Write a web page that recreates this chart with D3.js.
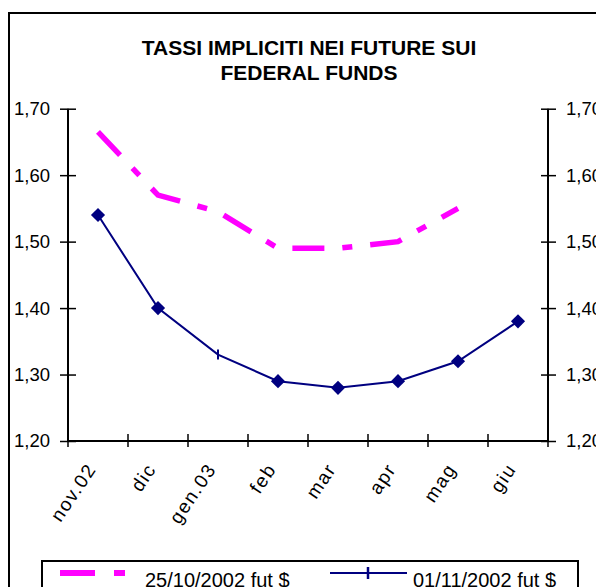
<!DOCTYPE html>
<html>
<head>
<meta charset="utf-8">
<script src="https://cdn.jsdelivr.net/npm/d3@7"></script>
<style>
  body { margin: 0; background: #fff; }
  svg { display: block; font-family: "Liberation Sans", Arial, sans-serif; }
</style>
</head>
<body>
<svg width="596" height="587"></svg>
<script>
// chart values
const months = ["nov.02", "dic", "gen.03", "feb", "mar", "apr", "mag", "giu"];
const fut2510 = [1.665, 1.57, 1.545, 1.49, 1.49, 1.50, 1.55, null];
const fut0111 = [1.54, 1.40, 1.33, 1.29, 1.28, 1.29, 1.32, 1.38];
const markers0111 = ["diamond", "diamond", "tick", "diamond", "diamond", "diamond", "diamond", "diamond"];
const yTicks = [1.20, 1.30, 1.40, 1.50, 1.60, 1.70];
const titleLines = ["TASSI IMPLICITI NEI FUTURE SUI", "FEDERAL FUNDS"];
const legendNames = ["25/10/2002 fut $", "01/11/2002 fut $"];

const svg = d3.select("svg");
const magenta = "#ff00ff", navy = "#000080";

// outer chart frame (runs off the picture on right and bottom)
svg.append("rect")
    .attr("x", 9).attr("y", 13)
    .attr("width", 620).attr("height", 620)
    .attr("fill", "none").attr("stroke", "#000").attr("stroke-width", 2);

// title
svg.append("g").selectAll("text")
    .data(titleLines)
    .join("text")
    .attr("x", 309)
    .attr("y", (d, i) => 55 + i * 25)
    .attr("text-anchor", "middle")
    .attr("font-size", 21)
    .attr("font-weight", "bold")
    .text(d => d);

let x = d3.scaleBand().domain(months).range([68, 548]).padding(0);
let y = d3.scaleLinear().domain([1.2, 1.7]).range([441, 108.7]);
const fmt = d => d.toFixed(2).replace(".", ",");

// left axis
let leftAxis = svg.append("g")
    .attr("transform", "translate(68,0)")
    .call(d3.axisLeft(y).tickValues(yTicks).tickFormat(fmt).tickSize(8).tickPadding(10));
leftAxis.selectAll(".tick line").attr("x2", 8).attr("x1", -8);

// right axis
let rightAxis = svg.append("g")
    .attr("transform", "translate(548,0)")
    .call(d3.axisRight(y).tickValues(yTicks).tickFormat(fmt).tickSize(8).tickPadding(10));
rightAxis.selectAll(".tick line").attr("x1", -7).attr("x2", 8);

// bottom axis with ticks between categories
let bottom = svg.append("g").attr("transform", "translate(0,441)");
bottom.append("line")
    .attr("x1", 68).attr("x2", 548)
    .attr("stroke", "#000").attr("stroke-width", 2);
bottom.selectAll("line.tk")
    .data(months.concat(["_end"]))
    .join("line")
    .attr("class", "tk")
    .attr("x1", (d, i) => 68 + i * x.bandwidth())
    .attr("x2", (d, i) => 68 + i * x.bandwidth())
    .attr("y1", -7).attr("y2", 6)
    .attr("stroke", "#000").attr("stroke-width", 1.5);
bottom.selectAll("text")
    .data(months)
    .join("text")
    .attr("transform", d => "translate(" + (x(d) + x.bandwidth() / 2 - 1) + ",28) rotate(-56)")
    .attr("text-anchor", "end")
    .attr("font-size", 19)
    .attr("letter-spacing", 1.6)
    .text(d => d);

[leftAxis, rightAxis].forEach(a => {
    a.select(".domain").attr("stroke-width", 2);
    a.selectAll(".tick line").attr("stroke-width", 1.5);
    a.selectAll("text").attr("font-size", 18.5).attr("fill", "#000");
    a.attr("font-family", null);
});
leftAxis.select(".domain").attr("d", "M0,441V108.7");
rightAxis.select(".domain").attr("d", "M0,441V108.7");

const cx = d => x(d) + x.bandwidth() / 2;

// 25/10 series: magenta long-dash / short-dash
const line = d3.line()
    .defined(d => d.v != null)
    .x(d => cx(d.m))
    .y(d => y(d.v));

svg.append("path")
    .datum(months.map((m, i) => ({ m: m, v: fut2510[i] })))
    .attr("d", line)
    .attr("fill", "none")
    .attr("stroke", magenta)
    .attr("stroke-width", 5.5)
    .attr("stroke-dasharray", "32,18,10,18");

// 01/11 series: navy line with diamonds
let blue = months.map((m, i) => ({ m: m, v: fut0111[i], mk: markers0111[i] }));
svg.append("path")
    .datum(blue)
    .attr("d", line)
    .attr("fill", "none")
    .attr("stroke", navy)
    .attr("stroke-width", 2);

svg.append("g").selectAll("path")
    .data(blue.filter(d => d.mk === "diamond"))
    .join("path")
    .attr("d", d3.symbol(d3.symbolSquare, 100))
    .attr("transform", d => "translate(" + cx(d.m) + "," + y(d.v) + ") rotate(45)")
    .attr("fill", navy);

svg.append("g").selectAll("line")
    .data(blue.filter(d => d.mk === "tick"))
    .join("line")
    .attr("x1", d => cx(d.m)).attr("x2", d => cx(d.m))
    .attr("y1", d => y(d.v) - 5).attr("y2", d => y(d.v) + 5)
    .attr("stroke", navy).attr("stroke-width", 2);

// legend
let legend = svg.append("g");
legend.append("rect")
    .attr("x", 42).attr("y", 561)
    .attr("width", 536).attr("height", 60)
    .attr("fill", "#fff").attr("stroke", "#000").attr("stroke-width", 2);
legend.append("line")
    .attr("x1", 60).attr("x2", 126).attr("y1", 573).attr("y2", 573)
    .attr("stroke", magenta).attr("stroke-width", 6)
    .attr("stroke-dasharray", "35,19,11,30");
legend.append("line")
    .attr("x1", 330).attr("x2", 407).attr("y1", 573).attr("y2", 573)
    .attr("stroke", navy).attr("stroke-width", 2);
legend.append("line")
    .attr("x1", 368).attr("x2", 368).attr("y1", 567).attr("y2", 579)
    .attr("stroke", navy).attr("stroke-width", 2.5);
legend.selectAll("text")
    .data(legendNames)
    .join("text")
    .attr("x", (d, i) => i === 0 ? 145 : 413)
    .attr("y", 587)
    .attr("font-size", 20)
    .text(d => d);
</script>
</body>
</html>
